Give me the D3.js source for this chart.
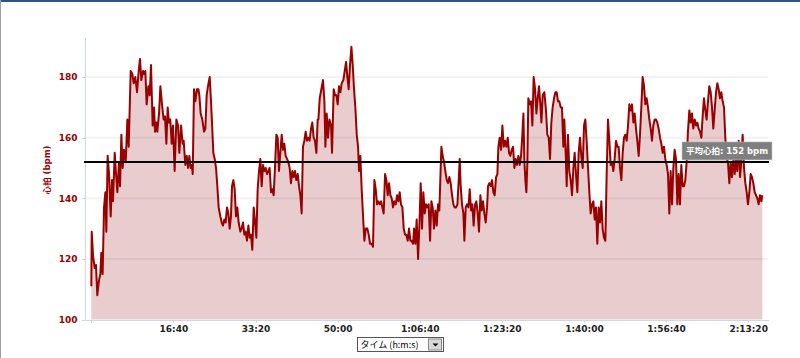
<!DOCTYPE html>
<html>
<head>
<meta charset="utf-8">
<script src="https://cdn.jsdelivr.net/npm/d3@7/dist/d3.min.js"></script>
<style>
body { margin: 0; padding: 0; background: #fff; }
#chart { width: 800px; height: 358px; }
.axis path, .axis line { stroke: #ccd8e8; shape-rendering: crispEdges; }
.axis text { font-family: "DejaVu Sans", Verdana, "Noto Sans CJK JP", sans-serif; font-weight: bold; font-size: 9px; }
.yAxis text { fill: #990000; }
.xAxis text { fill: #222; }
</style>
</head>
<body>
<div id="chart"></div>
<script>
// heart rate samples: [elapsed seconds, bpm]
var hrSamples = [
[0,111],[5,129],[21,121],[41,117],[57,118],[73,108],[94,113],[110,115],[122,122],[138,115],[155,137],[171,142],[183,129],[199,154],[216,148],[236,134],[252,146],[264,139],[285,155],[301,148],[317,142],[337,152],[350,144],[366,161],[382,150],[398,156],[419,152],[439,166],[455,157],[480,182],[500,181],[516,178],[536,180],[557,175],[577,182],[593,186],[609,179],[630,182],[642,181],[658,182],[674,171],[695,177],[711,174],[727,184],[747,164],[764,170],[776,162],[792,165],[804,162],[825,168],[841,177],[861,171],[881,166],[898,167],[914,158],[930,170],[946,165],[962,166],[979,158],[995,164],[1015,149],[1036,166],[1056,164],[1072,155],[1093,164],[1113,158],[1125,159],[1145,151],[1162,154],[1178,150],[1194,154],[1210,150],[1226,151],[1235,148],[1251,176],[1267,172],[1287,176],[1304,176],[1316,174],[1332,168],[1352,166],[1373,162],[1389,163],[1405,174],[1421,177],[1442,180],[1454,174],[1470,165],[1486,155],[1503,153],[1519,150],[1535,144],[1551,137],[1572,134],[1588,132],[1604,131],[1620,133],[1636,132],[1653,137],[1669,135],[1685,130],[1701,134],[1714,144],[1730,146],[1746,143],[1762,134],[1778,137],[1795,132],[1815,129],[1831,130],[1848,132],[1864,128],[1880,129],[1896,126],[1913,131],[1929,127],[1945,128],[1961,123],[1978,137],[1998,131],[2010,127],[2026,143],[2043,149],[2059,153],[2075,144],[2091,151],[2107,149],[2124,150],[2140,148],[2156,149],[2172,150],[2189,142],[2205,143],[2221,141],[2237,150],[2254,161],[2270,160],[2286,149],[2302,155],[2319,161],[2335,156],[2351,158],[2367,154],[2384,153],[2400,152],[2416,150],[2432,145],[2449,149],[2465,147],[2481,149],[2497,146],[2514,148],[2530,144],[2546,141],[2562,135],[2578,157],[2595,159],[2611,162],[2627,159],[2643,160],[2659,159],[2676,163],[2692,165],[2708,160],[2724,159],[2741,155],[2757,166],
[2766,166],[2782,173],[2802,176],[2822,179],[2839,172],[2851,157],[2867,168],[2883,160],[2900,166],[2920,164],[2932,155],[2952,176],[2969,174],[2985,174],[3001,171],[3017,177],[3034,175],[3050,178],[3070,179],[3086,182],[3103,185],[3119,180],[3135,176],[3151,184],[3168,190],[3184,184],[3200,176],[3216,170],[3233,161],[3249,157],[3261,149],[3277,154],[3293,143],[3310,134],[3326,126],[3342,130],[3362,130],[3379,128],[3395,125],[3415,125],[3431,124],[3448,146],[3464,143],[3480,138],[3496,139],[3513,138],[3529,139],[3545,137],[3561,135],[3578,148],[3594,146],[3610,141],[3626,145],[3643,141],[3659,140],[3675,137],[3691,139],[3708,138],[3724,141],[3740,139],[3756,142],[3772,138],[3789,137],[3805,130],[3821,128],[3837,128],[3854,126],[3870,130],[3886,126],[3902,126],[3919,125],[3931,130],[3947,125],[3963,133],[3980,120],[3996,131],[4012,145],[4028,130],[4044,142],[4061,135],[4077,138],[4093,137],[4109,138],[4126,126],[4142,139],[4158,137],[4174,130],[4191,136],[4207,131],[4223,138],[4239,136],[4252,147],[4264,157],[4280,154],[4296,152],[4312,149],[4329,146],[4345,145],[4361,147],[4377,145],[4394,141],[4410,138],[4426,137],[4442,137],[4459,138],[4475,146],[4487,153],[4499,144],[4515,138],[4532,135],[4544,126],[4560,137],[4576,138],[4593,137],[4609,143],[4625,136],[4641,138],[4657,131],[4674,138],[4690,139],[4706,135],[4722,129],[4739,141],[4755,136],[4771,139],[4787,135],[4804,132],[4820,137],[4832,144],[4848,145],[4865,144],[4881,146],[4897,142],[4913,141],[4930,147],[4946,148],[4958,157],[4974,160],[4990,156],[5007,164],[5023,157],[5039,159],[5055,157],[5072,160],[5088,155],[5104,154],[5120,156],[5137,157],[5153,150],[5169,153],[5185,151],[5202,154],[5218,151],[5234,154],[5250,161],[5263,168],[5275,152],[5287,146],[5299,142],[5311,152],[5323,173],[5340,171],[5356,172],[5372,164],[5388,180],[5405,176],[5421,168],[5437,173],[5453,177],[5469,171],[5482,165],[5498,174],[5518,175],
[5538,169],[5554,161],[5571,160],[5587,153],[5603,165],[5619,170],[5636,173],[5652,175],[5668,175],[5684,172],[5700,172],[5717,170],[5733,170],[5749,157],[5761,166],[5778,155],[5790,144],[5806,161],[5822,149],[5839,146],[5855,141],[5871,150],[5887,155],[5903,148],[5920,142],[5936,155],[5952,160],[5968,154],[5985,150],[6001,164],[6017,166],[6033,159],[6050,150],[6066,142],[6082,135],[6098,138],[6115,139],[6131,133],[6147,137],[6163,125],[6180,137],[6196,132],[6212,139],[6228,130],[6244,127],[6261,126],[6277,148],[6293,166],[6310,159],[6326,151],[6342,152],[6358,149],[6374,153],[6391,159],[6407,157],[6423,157],[6439,150],[6456,146],[6472,155],[6488,160],[6504,161],[6521,159],[6537,164],[6553,171],[6569,169],[6585,171],[6602,165],[6618,168],[6634,163],[6650,159],[6667,154],[6683,161],[6699,170],[6715,180],[6732,177],[6748,171],[6764,173],[6780,170],[6797,166],[6813,163],[6829,159],[6845,164],[6862,166],[6878,166],[6894,165],[6910,163],[6927,160],[6943,158],[6959,155],[6975,157],[6991,153],[7008,151],[7024,148],[7040,135],[7056,149],[7073,138],[7089,150],[7105,156],[7121,153],[7138,138],[7154,148],[7170,138],[7186,151],[7203,144],[7219,144],[7235,146],[7251,152],[7267,162],[7284,169],[7300,165],[7316,168],[7332,163],[7349,166],[7365,164],[7381,165],[7397,163],[7414,162],[7430,160],[7446,167],[7462,173],[7479,169],[7495,166],[7511,172],[7527,177],[7544,175],[7560,170],[7576,163],[7592,169],[7609,175],[7625,178],[7641,176],[7657,173],[7673,175],[7690,172],[7706,170],[7722,160],[7738,153],[7754,152],[7771,145],[7787,152],[7803,147],[7820,153],[7836,148],[7852,153],[7868,149],[7885,159],[7901,147],[7917,152],[7933,161],[7950,150],[7966,145],[7982,142],[7998,138],[8015,142],[8031,148],[8047,147],[8063,145],[8080,142],[8096,141],[8112,140],[8128,138],[8144,141],[8161,139],[8173,141]
];

var avgHr = 152;
var yTicks = [100, 120, 140, 160, 180];
var xTicks = [0, 1000, 2000, 3000, 4000, 5000, 6000, 7000, 8000];
var xTickLabels = ["", "16:40", "33:20", "50:00", "1:06:40", "1:23:20", "1:40:00", "1:56:40", "2:13:20"];
var yTitle = "心拍 (bpm)";
var avgLabel = "平均心拍: " + avgHr + " bpm";
var unitLabel = "タイム (h:m:s)";

drawChart("chart");

function drawChart(container){
	var width = 800, height = 358;
	var left = 84, right = 768, top = 37.7, bottom = 319.5;

	var svg = d3.select("#" + container).append("svg")
		.attr("width", width)
		.attr("height", height);

	// frame: blue strip on top, grey edge on the left
	svg.append("rect").attr("x", 0).attr("y", 0).attr("width", width).attr("height", 2).style("fill", "#2b5784");
	svg.append("rect").attr("x", 0).attr("y", 0).attr("width", 1).attr("height", height).style("fill", "#a0a0a0");

	var x = d3.scaleLinear().domain([-89, 8242]).range([left, right]);
	var y = d3.scaleLinear().domain([100, 193]).range([bottom, top]);

	var area = d3.area()
		.x(function(d) { return x(d[0]); })
		.y0(y(100))
		.y1(function(d) { return y(d[1]); });
	var line = d3.line()
		.x(function(d) { return x(d[0]); })
		.y(function(d) { return y(d[1]); });

	svg.append("path").datum(hrSamples)
		.attr("d", area)
		.style("fill", "#e9cccd");

	// grid lines
	svg.selectAll(".grid")
		.data(yTicks.slice(1))
		.enter().append("line")
		.attr("class", "grid")
		.attr("x1", left).attr("x2", right)
		.attr("y1", function(d) { return y(d); })
		.attr("y2", function(d) { return y(d); })
		.style("stroke", "rgba(0,0,0,0.05)")
		.style("stroke-width", 2);

	svg.append("path").datum(hrSamples)
		.attr("d", line)
		.style("fill", "none")
		.style("stroke", "#990000")
		.style("stroke-width", 2)
		.style("stroke-linejoin", "round");

	// axes
	svg.append("g")
		.attr("class", "axis yAxis")
		.attr("transform", "translate(" + (left + 0.5) + ",0)")
		.call(d3.axisLeft(y).tickValues(yTicks).tickSize(3).tickSizeOuter(0).tickPadding(4));
	svg.append("g")
		.attr("class", "axis xAxis")
		.attr("transform", "translate(0," + (bottom + 0.5) + ")")
		.call(d3.axisBottom(x).tickValues(xTicks).tickSize(3).tickSizeOuter(0).tickPadding(3)
			.tickFormat(function(d, i) { return xTickLabels[i]; }));

	svg.append("text")
		.attr("transform", "translate(50,170) rotate(-90)")
		.style("text-anchor", "middle")
		.style("font-family", "\"DejaVu Sans\", Verdana, \"Noto Sans CJK JP\", sans-serif")
		.style("font-weight", "bold")
		.style("font-size", "8.5px")
		.style("fill", "#990000")
		.text(yTitle);

	// average line + label
	svg.append("line")
		.attr("x1", left).attr("x2", right + 1)
		.attr("y1", y(avgHr)).attr("y2", y(avgHr))
		.style("stroke", "#000")
		.style("stroke-width", 2);

	var lbl = svg.append("g").attr("transform", "translate(682," + (y(avgHr) - 20) + ")");
	lbl.append("rect")
		.attr("width", 90).attr("height", 18)
		.style("fill", "#7f7f7f")
		.style("stroke", "#c8c8c8")
		.style("stroke-width", 0.5);
	lbl.append("text")
		.attr("x", 45).attr("y", 12.5)
		.style("text-anchor", "middle")
		.style("font-family", "\"DejaVu Sans\", Verdana, \"Noto Sans CJK JP\", sans-serif")
		.style("font-weight", "bold")
		.style("font-size", "8.5px")
		.style("fill", "#fff")
		.text(avgLabel);

	// unit selector box under the axis
	var sel = svg.append("g").attr("transform", "translate(357.5,337.5)");
	sel.append("rect")
		.attr("width", 86).attr("height", 14)
		.style("fill", "#fff")
		.style("stroke", "#555");
	sel.append("text")
		.attr("x", 3).attr("y", 10.5)
		.style("font-family", "\"Noto Sans CJK JP\", sans-serif")
		.style("font-size", "9px")
		.style("fill", "#000")
		.text(unitLabel);
	sel.append("rect")
		.attr("x", 71).attr("y", 1.5)
		.attr("width", 13).attr("height", 11)
		.style("fill", "#d8d8d8")
		.style("stroke", "#888");
	sel.append("path")
		.attr("d", "M75,6 L81,6 L78,9 Z")
		.style("fill", "#000");
}
</script>
</body>
</html>
